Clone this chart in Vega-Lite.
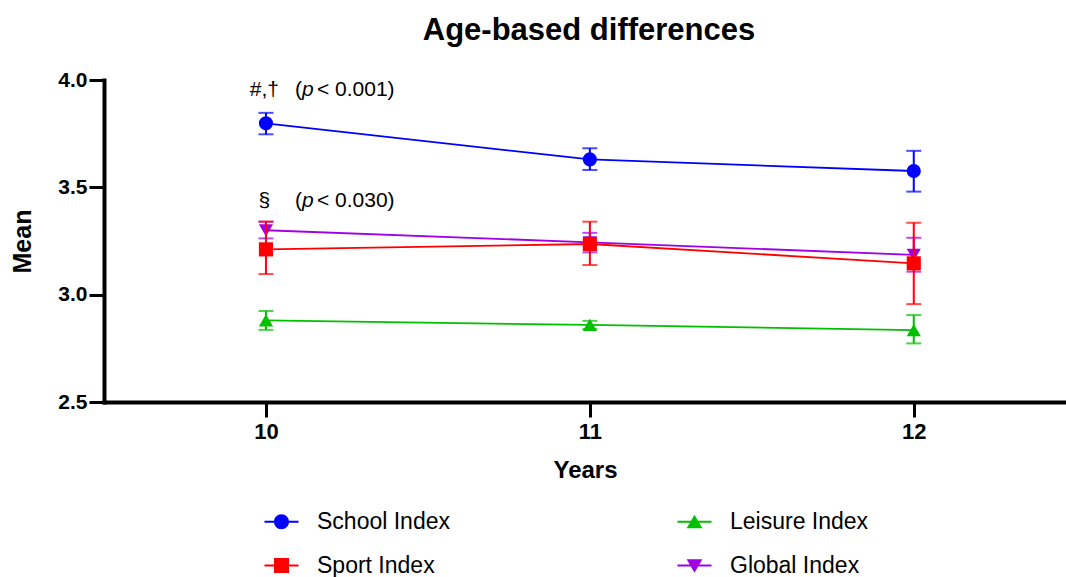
{
  "$schema": "https://vega.github.io/schema/vega-lite/v6.json",
  "autosize": "none",
  "width": 962,
  "height": 322,
  "padding": {"left": 104, "top": 80, "right": 0, "bottom": 175},
  "background": "white",
  "title": {"text": "Age-based differences", "fontSize": 31, "font": "Liberation Sans", "fontWeight": "bold", "color": "black", "anchor": "middle", "baseline": "alphabetic", "offset": 30, "dy": 32, "dx": 4},
  "datasets": {
    "stats": [
      {"series": "School Index", "year": 10, "mean": 3.798, "lo": 3.747, "hi": 3.847},
      {"series": "School Index", "year": 11, "mean": 3.630, "lo": 3.581, "hi": 3.682},
      {"series": "School Index", "year": 12, "mean": 3.576, "lo": 3.480, "hi": 3.670},
      {"series": "Leisure Index", "year": 10, "mean": 2.880, "lo": 2.836, "hi": 2.924},
      {"series": "Leisure Index", "year": 11, "mean": 2.859, "lo": 2.840, "hi": 2.878},
      {"series": "Leisure Index", "year": 12, "mean": 2.835, "lo": 2.773, "hi": 2.905},
      {"series": "Global Index", "year": 10, "mean": 3.300, "lo": 3.262, "hi": 3.340},
      {"series": "Global Index", "year": 11, "mean": 3.244, "lo": 3.197, "hi": 3.288},
      {"series": "Global Index", "year": 12, "mean": 3.185, "lo": 3.107, "hi": 3.265},
      {"series": "Sport Index", "year": 10, "mean": 3.211, "lo": 3.096, "hi": 3.340},
      {"series": "Sport Index", "year": 11, "mean": 3.236, "lo": 3.138, "hi": 3.340},
      {"series": "Sport Index", "year": 12, "mean": 3.146, "lo": 2.956, "hi": 3.335}
    ],
    "notes": [
      {"year": 10, "pos": 3.925, "sym": "#,†", "stat": "< 0.001)"},
      {"year": 10, "pos": 3.408, "sym": "§", "stat": "< 0.030)"}
    ]
  },
  "data": {"name": "stats"},
  "resolve": {"scale": {"color": "independent", "shape": "independent"}, "legend": {"color": "independent", "shape": "independent"}},
  "config": {
    "view": {"stroke": null},
    "font": "Liberation Sans",
    "axis": {"domainColor": "black", "tickColor": "black", "labelColor": "black", "titleColor": "black", "labelFont": "Liberation Sans", "titleFont": "Liberation Sans", "labelFontWeight": "bold", "titleFontWeight": "bold", "grid": false, "domainWidth": 4, "tickWidth": 3, "tickSize": 15, "domainCap": "square"}
  },
  "layer": [
    {
      "mark": {"type": "line", "strokeWidth": 1.8},
      "encoding": {
        "x": {"field": "year", "type": "quantitative", "title": "Years", "scale": {"domain": [9.5, 12.47], "nice": false, "zero": false}, "axis": {"values": [10, 11, 12], "format": "d", "labelFontSize": 22, "labelPadding": 4, "title": "Years", "titleFontSize": 24, "titlePadding": 16}},
        "y": {"field": "mean", "type": "quantitative", "title": "Mean", "scale": {"domain": [2.5, 4.0], "nice": false, "zero": false}, "axis": {"values": [2.5, 3.0, 3.5, 4.0], "format": ".1f", "labelFontSize": 21, "labelPadding": 2, "title": "Mean", "titleFontSize": 25, "titlePadding": 22}},
        "color": {"field": "series", "type": "nominal", "scale": {"domain": ["School Index", "Sport Index", "Leisure Index", "Global Index"], "range": ["#0000ff", "#ff0000", "#00c000", "#9f00e6"]}, "legend": null}
      }
    },
    {
      "transform": [{"filter": "datum.series !== 'Sport Index'"}],
      "mark": {"type": "errorbar", "ticks": {"size": 15, "thickness": 2}, "rule": {"strokeWidth": 2}},
      "encoding": {
        "x": {"field": "year", "type": "quantitative", "title": "Years"},
        "y": {"field": "lo", "type": "quantitative", "title": "Mean"},
        "y2": {"field": "hi"},
        "color": {"field": "series", "type": "nominal", "scale": {"domain": ["School Index", "Sport Index", "Leisure Index", "Global Index"], "range": ["#0000ff", "#ff0000", "#00c000", "#9f00e6"]}, "legend": null}
      }
    },
    {
      "transform": [{"filter": "datum.series === 'School Index'"}],
      "mark": {"type": "point", "shape": "circle", "filled": true, "opacity": 1, "size": 200, "color": "#0000ff"},
      "encoding": {
        "x": {"field": "year", "type": "quantitative", "title": "Years"},
        "y": {"field": "mean", "type": "quantitative", "title": "Mean"}
      }
    },
    {
      "transform": [{"filter": "datum.series === 'Leisure Index'"}],
      "mark": {"type": "point", "shape": "triangle-up", "filled": true, "opacity": 1, "size": 200, "color": "#00c000"},
      "encoding": {
        "x": {"field": "year", "type": "quantitative", "title": "Years"},
        "y": {"field": "mean", "type": "quantitative", "title": "Mean"}
      }
    },
    {
      "transform": [{"filter": "datum.series === 'Global Index'"}],
      "mark": {"type": "point", "shape": "triangle-down", "filled": true, "opacity": 1, "size": 200, "color": "#9f00e6"},
      "encoding": {
        "x": {"field": "year", "type": "quantitative", "title": "Years"},
        "y": {"field": "mean", "type": "quantitative", "title": "Mean"}
      }
    },
    {
      "transform": [{"filter": "datum.series === 'Sport Index'"}],
      "mark": {"type": "errorbar", "ticks": {"size": 15, "thickness": 2}, "rule": {"strokeWidth": 2}, "color": "#ff0000"},
      "encoding": {
        "x": {"field": "year", "type": "quantitative", "title": "Years"},
        "y": {"field": "lo", "type": "quantitative", "title": "Mean"},
        "y2": {"field": "hi"}
      }
    },
    {
      "transform": [{"filter": "datum.series === 'Sport Index'"}],
      "mark": {"type": "point", "shape": "square", "filled": true, "opacity": 1, "size": 200, "color": "#ff0000"},
      "encoding": {
        "x": {"field": "year", "type": "quantitative", "title": "Years"},
        "y": {"field": "mean", "type": "quantitative", "title": "Mean"}
      }
    },
    {
      "mark": {"type": "point", "filled": true, "opacity": 0, "size": 200},
      "encoding": {
        "x": {"field": "year", "type": "quantitative", "title": "Years"},
        "y": {"field": "mean", "type": "quantitative", "title": "Mean"},
        "color": {"field": "series", "type": "nominal", "scale": {"domain": ["School Index", "Sport Index", "Leisure Index", "Global Index"], "range": ["#0000ff", "#ff0000", "#00c000", "#9f00e6"]},
          "legend": {"title": null, "orient": "none", "legendX": 166, "legendY": 430, "columns": 2, "padding": 0, "labelFontSize": 23, "labelFont": "Liberation Sans", "labelColor": "black", "symbolSize": 225, "labelOffset": 24, "columnPadding": 227, "rowPadding": 20, "symbolStrokeWidth": 0, "symbolOpacity": 1}},
        "shape": {"field": "series", "type": "nominal",
          "scale": {"domain": ["School Index", "Sport Index", "Leisure Index", "Global Index"],
            "range": ["M-2.27,-0.14H-1V0.14H-2.27ZM1,-0.14H2.27V0.14H1ZM-1,0A1,1,0,1,1,1,0A1,1,0,1,1,-1,0Z", "M-2.27,-0.14H-1V0.14H-2.27ZM1,-0.14H2.27V0.14H1ZM-1,-1H1V1H-1Z", "M-2.27,-0.14H-0.3V0.14H-2.27ZM0.3,-0.14H2.27V0.14H0.3ZM0,-0.95L1.05,0.85H-1.05Z", "M-2.27,-0.14H-0.3V0.14H-2.27ZM0.3,-0.14H2.27V0.14H0.3ZM0,0.95L-1.05,-0.85H1.05Z"]},
          "legend": {"title": null, "orient": "none", "legendX": 166, "legendY": 430, "columns": 2, "padding": 0, "labelFontSize": 23, "labelFont": "Liberation Sans", "labelColor": "black", "symbolSize": 225, "labelOffset": 24, "columnPadding": 227, "rowPadding": 20, "symbolStrokeWidth": 0, "symbolOpacity": 1}}
      }
    },
    {
      "data": {"name": "notes"},
      "mark": {"type": "text", "align": "center", "baseline": "alphabetic", "fontSize": 21, "dx": -1.5, "color": "black"},
      "encoding": {
        "x": {"field": "year", "type": "quantitative"},
        "y": {"field": "pos", "type": "quantitative"},
        "text": {"field": "sym"}
      }
    },
    {
      "data": {"name": "notes"},
      "mark": {"type": "text", "align": "left", "baseline": "alphabetic", "fontSize": 21, "dx": 29, "color": "black", "text": "("},
      "encoding": {
        "x": {"field": "year", "type": "quantitative"},
        "y": {"field": "pos", "type": "quantitative"}
      }
    },
    {
      "data": {"name": "notes"},
      "mark": {"type": "text", "align": "left", "baseline": "alphabetic", "fontSize": 21, "fontStyle": "italic", "dx": 36, "color": "black", "text": "p"},
      "encoding": {
        "x": {"field": "year", "type": "quantitative"},
        "y": {"field": "pos", "type": "quantitative"}
      }
    },
    {
      "data": {"name": "notes"},
      "mark": {"type": "text", "align": "left", "baseline": "alphabetic", "fontSize": 21, "dx": 51, "color": "black"},
      "encoding": {
        "x": {"field": "year", "type": "quantitative"},
        "y": {"field": "pos", "type": "quantitative"},
        "text": {"field": "stat"}
      }
    }
  ]
}
